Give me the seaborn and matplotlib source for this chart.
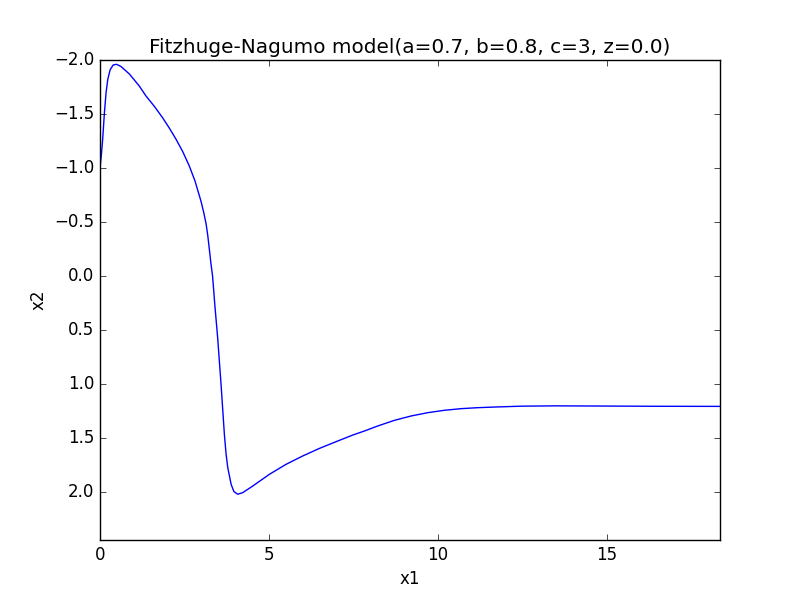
import pandas as pd
import matplotlib
matplotlib.use("Agg")
import matplotlib.pyplot as plt
import seaborn as sns

# values (x1 -> x2)
x1 = [0.0, 0.04, 0.08, 0.13, 0.18, 0.23, 0.30, 0.39, 0.49, 0.62, 0.87, 1.16,
      1.36, 1.61, 1.85, 2.05, 2.25, 2.45, 2.64, 2.81, 2.99, 3.07, 3.14, 3.19,
      3.23, 3.28, 3.33, 3.40, 3.48, 3.58, 3.68, 3.73, 3.78, 3.88, 3.96, 4.07,
      4.22, 4.52, 5.01, 5.50, 5.99, 6.49, 6.98, 7.48, 7.82, 8.21, 8.71, 9.20,
      9.70, 10.19, 10.68, 11.17, 11.67, 12.46, 13.5, 15.0, 16.5, 18.34]
x2 = [-1.0, -1.12, -1.27, -1.51, -1.70, -1.82, -1.91, -1.954, -1.96, -1.94,
      -1.87, -1.76, -1.667, -1.57, -1.466, -1.37, -1.266, -1.15, -1.02, -0.88,
      -0.69, -0.586, -0.48, -0.37, -0.26, -0.12, 0.0, 0.28, 0.57, 1.0, 1.47,
      1.65, 1.775, 1.93, 1.995, 2.02, 2.006, 1.944, 1.836, 1.744, 1.667, 1.596,
      1.534, 1.472, 1.435, 1.389, 1.336, 1.296, 1.265, 1.243, 1.228, 1.219,
      1.213, 1.205, 1.202, 1.204, 1.206, 1.207]

df = pd.DataFrame({"x1": x1, "x2": x2})

plt.style.use("classic")
fig, ax = plt.subplots(figsize=(8, 6), dpi=100)
sns.lineplot(data=df, x="x1", y="x2", ax=ax, color="b", linewidth=1.0,
             sort=False, estimator=None)
ax.set_xlim(0, 18.34)
ax.set_ylim(2.444, -2.0)
ax.set_xlabel("x1")
ax.set_ylabel("x2")
ax.set_title("Fitzhuge-Nagumo model(a=0.7, b=0.8, c=3, z=0.0)")
fig.savefig("out.png", dpi=100, facecolor="white")
